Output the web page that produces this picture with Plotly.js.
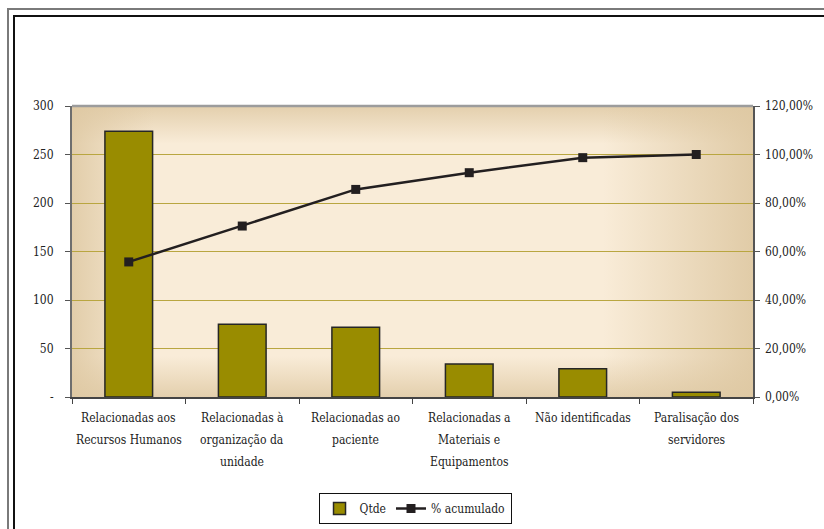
<!DOCTYPE html>
<html>
<head>
<meta charset="utf-8">
<script src="https://cdn.plot.ly/plotly-3.0.1.min.js"></script>
<style>
  html, body { margin: 0; padding: 0; background: #ffffff; }
  #wrap { position: relative; width: 824px; height: 529px; overflow: hidden; background: #fff; }
  #bg { position: absolute; left: 72px; top: 106px; width: 681px; height: 291px;
    background:
      linear-gradient(to right, rgba(222,200,162,0.85) 0%, rgba(222,200,162,0) 12%, rgba(222,200,162,0) 78%, rgba(222,200,162,0.9) 100%),
      linear-gradient(to bottom, rgba(222,200,162,0.8) 0%, rgba(222,200,162,0) 13%, rgba(222,200,162,0) 86%, rgba(222,200,162,0.8) 100%),
      #f9ecd8;
  }
  .ln { position: absolute; }
  #chart { position: absolute; left: 0; top: 0; width: 824px; height: 529px; }
</style>
</head>
<body>
<div id="wrap">
  <div class="ln" style="left:7px; top:8px; width:2px; height:530px; background:#7a7a7a;"></div>
  <div class="ln" style="left:7px; top:8px; width:830px; height:2px; background:#7a7a7a;"></div>
  <div class="ln" style="left:13px; top:15px; width:2px; height:530px; background:#111;"></div>
  <div class="ln" style="left:13px; top:15px; width:830px; height:2px; background:#111;"></div>
  <div id="bg"></div>
  <div id="chart"></div>
</div>
<script>
// ---- data ----
const categoryLines = [
  ["Relacionadas aos", "Recursos Humanos"],
  ["Relacionadas à", "organização da", "unidade"],
  ["Relacionadas ao", "paciente"],
  ["Relacionadas a", "Materiais e", "Equipamentos"],
  ["Não identificadas"],
  ["Paralisação dos", "servidores"]
];
const qtde = [274, 75, 72, 34, 29, 5];
const acumulado = [55.7, 70.5, 85.6, 92.5, 98.7, 100];
const leftTickVals = [0, 50, 100, 150, 200, 250, 300];
const leftTickText = ["-", "50", "100", "150", "200", "250", "300"];
const rightTickVals = [0, 20, 40, 60, 80, 100, 120];
const rightTickText = ["0,00%", "20,00%", "40,00%", "60,00%", "80,00%", "100,00%", "120,00%"];

const categories = categoryLines.map(l => l.join(" "));
const FONT = "DejaVu Serif Condensed, DejaVu Serif";
const FS = 12;

const traces = [
  {
    type: "bar", name: "Qtde", x: categories, y: qtde,
    width: 0.42,
    marker: { color: "#998c00", line: { color: "#262626", width: 1.5 } },
    hoverinfo: "x+y"
  },
  {
    type: "scatter", mode: "lines+markers", name: "% acumulado",
    x: categories, y: acumulado, yaxis: "y2",
    line: { color: "#231f20", width: 2.5 },
    marker: { symbol: "square", size: 9, color: "#231f20" }
  }
];

const annotations = [];
categoryLines.forEach((lines, i) => {
  lines.forEach((t, j) => {
    annotations.push({
      x: categories[i], xref: "x", y: 0, yref: "paper",
      text: t, showarrow: false, xanchor: "center", yanchor: "middle",
      yshift: -21 - 22 * j,
      font: { family: FONT, size: FS, color: "#222" }
    });
  });
});

const layout = {
  width: 824, height: 529,
  margin: { l: 72, r: 71, t: 106, b: 132, autoexpand: false },
  paper_bgcolor: "rgba(0,0,0,0)",
  plot_bgcolor: "rgba(0,0,0,0)",
  font: { family: FONT, size: FS, color: "#222" },
  showlegend: true,
  legend: {
    orientation: "h", x: 0.362, xanchor: "left", y: -0.33, yanchor: "top",
    bgcolor: "#ffffff", bordercolor: "#111", borderwidth: 1,
    font: { family: FONT, size: FS, color: "#222" },
    itemwidth: 30, tracegroupgap: 0
  },
  xaxis: {
    type: "category",
    showticklabels: false,
    showline: true, linecolor: "#444", linewidth: 1.5,
    ticks: "outside", tickson: "boundaries", ticklen: 5, tickcolor: "#444",
    showgrid: false, zeroline: false, fixedrange: true
  },
  yaxis: {
    range: [0, 300],
    tickvals: leftTickVals, ticktext: leftTickText,
    ticks: "outside", ticklen: 5, tickcolor: "#555", tickwidth: 1,
    ticklabelstandoff: 9,
    showline: true, linecolor: "#6e6e6e", linewidth: 2,
    showgrid: true, gridcolor: "#b9a640", gridwidth: 1,
    zeroline: false, fixedrange: true
  },
  yaxis2: {
    range: [0, 120], overlaying: "y", side: "right",
    tickvals: rightTickVals, ticktext: rightTickText,
    ticks: "outside", ticklen: 5, tickcolor: "#555", tickwidth: 1,
    ticklabelstandoff: 3,
    showline: true, linecolor: "#555", linewidth: 1.5,
    showgrid: false, zeroline: false, fixedrange: true
  },
  shapes: [
    { type: "line", xref: "paper", yref: "paper", x0: 0, x1: 1, y0: 1, y1: 1,
      line: { color: "#9c9c9c", width: 2.5 } }
  ],
  annotations: annotations
};

Plotly.newPlot("chart", traces, layout, { displayModeBar: false, staticPlot: true });
</script>
</body>
</html>
